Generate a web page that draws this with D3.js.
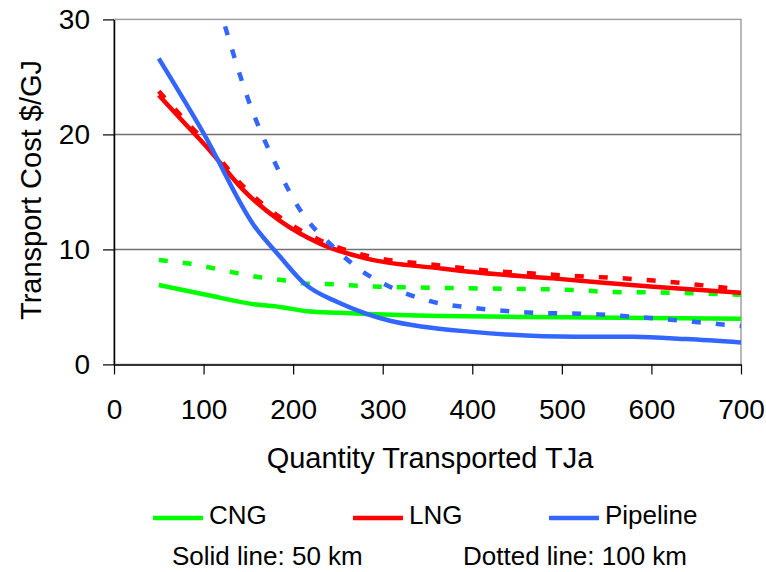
<!DOCTYPE html>
<html>
<head>
<meta charset="utf-8">
<script src="https://cdn.jsdelivr.net/npm/d3@7"></script>
<style>
  body { margin: 0; background: #fff; }
  svg { display: block; font-family: "Liberation Sans", Arial, sans-serif; }
  .axis text { fill: #000; }
</style>
</head>
<body>
<svg id="chart" width="766" height="572"></svg>
<script>
// Series: x = quantity transported (TJa), y = transport cost ($/GJ)
const cng50X = [50, 104, 159, 185, 215, 252, 364, 500, 700];
const cng50Y = [6.9, 6.03, 5.2, 5.0, 4.63, 4.49, 4.2, 4.1, 3.97];

const cng100X = [50, 81, 133, 159, 187, 213, 245, 282, 360, 416, 520, 550, 602, 700];
const cng100Y = [9.07, 8.8, 8.0, 7.62, 7.33, 7.04, 6.96, 6.8, 6.66, 6.6, 6.46, 6.3, 6.26, 6.05];

const lng50X = [50, 75, 107, 144, 185, 230, 282, 364, 397, 490, 602, 700];
const lng50Y = [23.4, 21.3, 18.6, 15.2, 12.5, 10.5, 9.2, 8.35, 8.05, 7.48, 6.75, 6.23];

const lng100X = [50, 75, 107, 144, 185, 230, 282, 364, 397, 490, 602, 700];
const lng100Y = [23.75, 21.6, 18.9, 15.5, 12.8, 10.8, 9.45, 8.6, 8.3, 7.8, 7.3, 6.5];

const pipe50X = [50, 100, 157, 185, 213, 250, 282, 308, 343, 397, 516, 580, 639, 700];
const pipe50Y = [26.6, 20.1, 12.0, 9.4, 7.0, 5.4, 4.4, 3.8, 3.3, 2.85, 2.4, 2.4, 2.2, 1.9];

const pipe100X = [124, 150, 183, 208, 245, 278, 304, 353, 407, 461, 541, 595, 647, 700];
const pipe100Y = [29.4, 23.0, 17.0, 13.4, 10.2, 8.05, 6.9, 5.5, 4.87, 4.52, 4.35, 4.05, 3.7, 3.33];

const xTicks = [0, 100, 200, 300, 400, 500, 600, 700];
const yTicks = [0, 10, 20, 30];
const gridTicks = [10, 20];

const legendNames = ['CNG', 'LNG', 'Pipeline'];
const legendColors = ['#00ff00', '#ff0000', '#3366ff'];
const noteLines = ['Solid line: 50 km', 'Dotted line: 100 km'];

const zip = (xs, ys) => xs.map((x, i) => ({x: x, y: ys[i]}));

// draw order: solid then dotted for each product
const series = [
  {pts: zip(cng50X, cng50Y), color: legendColors[0], dotted: false},
  {pts: zip(cng100X, cng100Y), color: legendColors[0], dotted: true},
  {pts: zip(lng50X, lng50Y), color: legendColors[1], dotted: false},
  {pts: zip(lng100X, lng100Y), color: legendColors[1], dotted: true},
  {pts: zip(pipe50X, pipe50Y), color: legendColors[2], dotted: false},
  {pts: zip(pipe100X, pipe100Y), color: legendColors[2], dotted: true}
];

const margin = {top: 19.4, left: 114},
      width = 627,
      height = 345;

const svg = d3.select('#chart');
const g = svg.append('g').attr('transform', 'translate(' + margin.left + ',' + margin.top + ')');

const x = d3.scaleLinear().domain([0, 700]).range([0, width]);
const y = d3.scaleLinear().domain([0, 30]).range([height, 0]);

// plot frame
g.append('rect')
  .attr('width', width).attr('height', height)
  .attr('fill', 'none').attr('stroke', '#a0a0a0').attr('stroke-width', 1.5);

// gridlines
g.selectAll('line.grid')
  .data(gridTicks)
  .enter().append('line')
  .attr('class', 'grid')
  .attr('x1', 0).attr('x2', width)
  .attr('y1', d => y(d)).attr('y2', d => y(d))
  .attr('stroke', '#707070').attr('stroke-width', 1.5);

g.append('clipPath').attr('id', 'plot-clip')
  .append('rect').attr('width', width).attr('height', height);

const line = d3.line()
  .x(d => x(d.x))
  .y(d => y(d.y))
  .curve(d3.curveMonotoneX);

g.append('g').attr('clip-path', 'url(#plot-clip)')
  .selectAll('path')
  .data(series)
  .enter().append('path')
  .attr('d', d => line(d.pts))
  .attr('fill', 'none')
  .attr('stroke', d => d.color)
  .attr('stroke-width', 4.5)
  .attr('stroke-dasharray', d => d.dotted ? '9,15' : null)
  .attr('stroke-linejoin', 'round');

// axes
const yAxis = d3.axisLeft(y).tickValues(yTicks).tickSize(11).tickSizeOuter(0).tickPadding(13);
const xAxis = d3.axisBottom(x).tickValues(xTicks).tickSize(10).tickSizeOuter(0).tickPadding(25);

const gy = g.append('g').attr('class', 'axis').call(yAxis);
gy.selectAll('text').style('font-size', '28px');
gy.select('.domain').attr('stroke', '#000').attr('stroke-width', 1.5);
gy.selectAll('.tick line').attr('stroke', '#000').attr('stroke-width', 1.2);

const gx = g.append('g').attr('class', 'axis').attr('transform', 'translate(0,' + height + ')').call(xAxis);
gx.selectAll('text').style('font-size', '28px');
gx.select('.domain').attr('stroke', '#333').attr('stroke-width', 2);
gx.selectAll('.tick line').attr('stroke', '#000').attr('stroke-width', 1.2);

// axis titles
svg.append('text')
  .attr('x', 430).attr('y', 468)
  .attr('text-anchor', 'middle')
  .style('font-size', '29px')
  .text('Quantity Transported TJa');

svg.append('text')
  .attr('transform', 'translate(41,190) rotate(-90)')
  .attr('text-anchor', 'middle')
  .style('font-size', '29px')
  .text('Transport Cost $/GJ');

// legend
const legendX = [153, 353, 549];
const legend = svg.selectAll('g.legend')
  .data(legendNames)
  .enter().append('g')
  .attr('class', 'legend')
  .attr('transform', (d, i) => 'translate(' + legendX[i] + ',518)');

legend.append('line')
  .attr('x1', 0).attr('x2', 50)
  .attr('stroke', (d, i) => legendColors[i])
  .attr('stroke-width', 4.5);

legend.append('text')
  .attr('x', 56).attr('y', 6)
  .style('font-size', '26px')
  .text(d => d);

const noteX = [172, 463];
svg.selectAll('text.note')
  .data(noteLines)
  .enter().append('text')
  .attr('class', 'note')
  .attr('x', (d, i) => noteX[i]).attr('y', 565)
  .style('font-size', '26px')
  .text(d => d);
</script>
</body>
</html>
